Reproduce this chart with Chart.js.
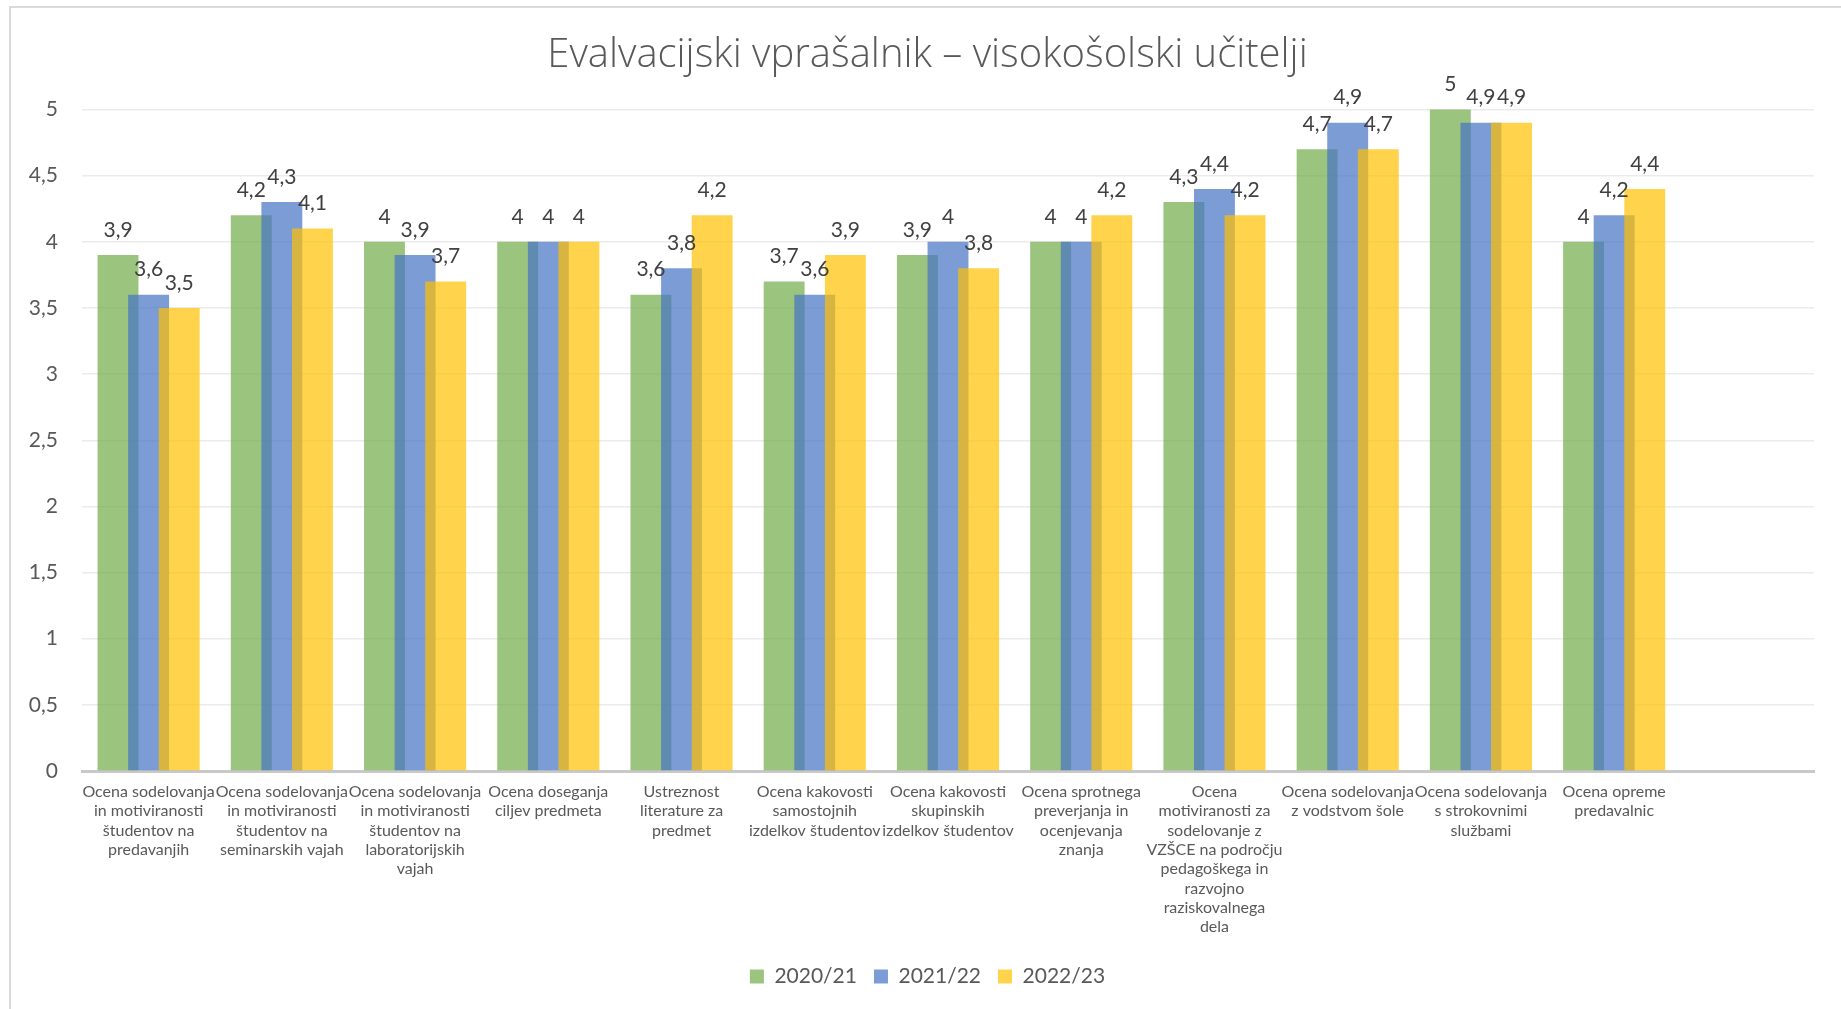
<!DOCTYPE html>
<html>
<head>
<meta charset="utf-8">
<script src="https://cdn.jsdelivr.net/npm/chart.js@4.4.1/dist/chart.umd.min.js"></script>
<style>
  html, body { margin: 0; padding: 0; background: #ffffff; }
  canvas { display: block; }
</style>
</head>
<body>
<canvas id="c" width="1841" height="1009"></canvas>
<script>
const chartTitle = "Evalvacijski vprašalnik – visokošolski učitelji";

const categories = [
  ["Ocena sodelovanja", "in motiviranosti", "študentov na", "predavanjih"],
  ["Ocena sodelovanja", "in motiviranosti", "študentov na", "seminarskih vajah"],
  ["Ocena sodelovanja", "in motiviranosti", "študentov na", "laboratorijskih", "vajah"],
  ["Ocena doseganja", "ciljev predmeta"],
  ["Ustreznost", "literature za", "predmet"],
  ["Ocena kakovosti", "samostojnih", "izdelkov študentov"],
  ["Ocena kakovosti", "skupinskih", "izdelkov študentov"],
  ["Ocena sprotnega", "preverjanja in", "ocenjevanja", "znanja"],
  ["Ocena", "motiviranosti za", "sodelovanje z", "VZŠCE na področju", "pedagoškega in", "razvojno", "raziskovalnega", "dela"],
  ["Ocena sodelovanja", "z vodstvom šole"],
  ["Ocena sodelovanja", "s strokovnimi", "službami"],
  ["Ocena opreme", "predavalnic"],
  ""
];

const seriesNames = ["2020/21", "2021/22", "2022/23"];
const values2020 = [3.9, 4.2, 4.0, 4.0, 3.6, 3.7, 3.9, 4.0, 4.3, 4.7, 5.0, 4.0, null];
const values2021 = [3.6, 4.3, 3.9, 4.0, 3.8, 3.6, 4.0, 4.0, 4.4, 4.9, 4.9, 4.2, null];
const values2022 = [3.5, 4.1, 3.7, 4.0, 4.2, 3.9, 3.8, 4.2, 4.2, 4.7, 4.9, 4.4, null];

const yTicks = [0, 0.5, 1, 1.5, 2, 2.5, 3, 3.5, 4, 4.5, 5];

const colors = ["rgba(112,173,71,0.7)", "rgba(68,114,196,0.7)", "rgba(255,192,0,0.7)"];

const fmt = v => String(v).replace('.', ',');

Chart.defaults.font.family = "Lato, 'Open Sans', 'DejaVu Sans', sans-serif";
Chart.defaults.color = "#595959";

const frame = {
  id: 'frame',
  beforeDraw(chart) {
    const ctx = chart.ctx;
    ctx.save();
    ctx.fillStyle = '#ffffff';
    ctx.fillRect(0, 0, chart.width, chart.height);
    ctx.strokeStyle = '#d9d9d9';
    ctx.lineWidth = 2;
    ctx.strokeRect(10, 7, chart.width + 50, chart.height + 50);
    ctx.restore();
  }
};

// draw datasets so that later series lie on top, then value labels
const drawOrder = {
  id: 'drawOrder',
  beforeDatasetsDraw(chart) {
    const ctx = chart.ctx;
    const area = chart.chartArea;
    const metas = chart.getSortedVisibleDatasetMetas();
    ctx.save();
    ctx.beginPath();
    ctx.rect(area.left, area.top - 60, area.right - area.left, area.bottom - area.top + 60);
    ctx.clip();
    metas.forEach(meta => meta.controller.draw());
    ctx.restore();

    ctx.save();
    ctx.font = "21px Lato, 'Open Sans', sans-serif";
    ctx.fillStyle = '#404040';
    ctx.textAlign = 'center';
    ctx.textBaseline = 'middle';
    metas.forEach(meta => {
      const data = chart.data.datasets[meta.index].data;
      meta.data.forEach((el, i) => {
        const v = data[i];
        if (v === null || v === undefined) return;
        ctx.fillText(fmt(v), el.x, el.y - 25);
      });
    });
    ctx.restore();
    return false;
  }
};

new Chart(document.getElementById('c'), {
  type: 'bar',
  data: {
    labels: categories,
    datasets: [
      { label: seriesNames[0], data: values2020, backgroundColor: colors[0], borderWidth: 0 },
      { label: seriesNames[1], data: values2021, backgroundColor: colors[1], borderWidth: 0 },
      { label: seriesNames[2], data: values2022, backgroundColor: colors[2], borderWidth: 0 }
    ]
  },
  options: {
    responsive: false,
    animation: false,
    devicePixelRatio: 1,
    categoryPercentage: 0.689,
    barPercentage: 1.337,
    layout: { padding: { left: 14, right: 0, top: 0, bottom: 12 } },
    plugins: {
      title: {
        display: true,
        text: chartTitle,
        color: '#595959',
        font: { family: "'Open Sans', Lato, sans-serif", size: 40, weight: '300', lineHeight: 1.2 },
        padding: { top: 31.5, bottom: 30 }
      },
      legend: {
        position: 'bottom',
        labels: {
          boxWidth: 14,
          boxHeight: 14,
          padding: 17,
          color: '#595959',
          font: { size: 21 }
        }
      },
      tooltip: { enabled: false }
    },
    scales: {
      x: {
        grid: { display: false },
        border: { display: true, color: '#c8c8c8', width: 3 },
        ticks: {
          autoSkip: false,
          maxRotation: 0,
          minRotation: 0,
          padding: 3,
          color: '#595959',
          font: { size: 16, lineHeight: 1.21 }
        },
        afterFit(scale) { scale.height = 178; }
      },
      y: {
        min: 0,
        max: 5,
        afterBuildTicks(scale) { scale.ticks = yTicks.map(v => ({ value: v })); },
        grid: { color: '#ebebeb', lineWidth: 1.5, drawTicks: false },
        border: { display: false },
        ticks: {
          padding: 24,
          color: '#595959',
          font: { size: 21 },
          callback: v => fmt(v)
        },
        afterFit(scale) { scale.width = 68; }
      },
      yRight: {
        position: 'right',
        display: true,
        grid: { display: false },
        border: { display: false },
        ticks: { display: false },
        afterFit(scale) { scale.width = 27; }
      }
    }
  },
  plugins: [frame, drawOrder]
});
</script>
</body>
</html>
